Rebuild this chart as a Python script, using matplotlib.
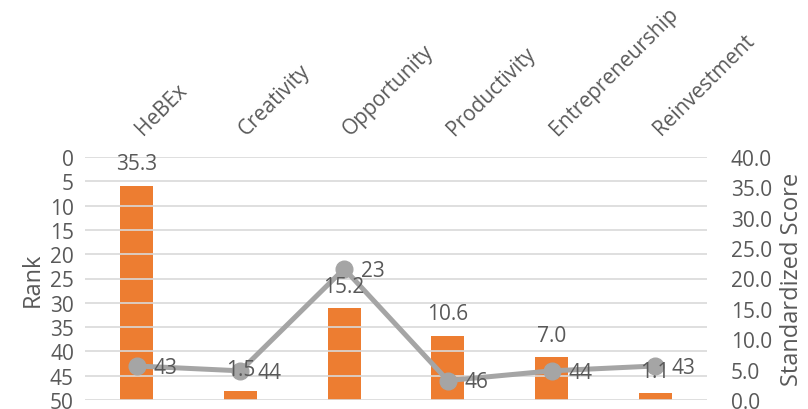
import matplotlib
matplotlib.use("Agg")
import matplotlib.pyplot as plt
import numpy as np

categories = ["HeBEx", "Creativity", "Opportunity", "Productivity", "Entrepreneurship", "Reinvestment"]
scores = [35.3, 1.5, 15.2, 10.6, 7.0, 1.1]
ranks = [43, 44, 23, 46, 44, 43]

plt.rcParams['font.family'] = ['Open Sans', 'DejaVu Sans']
txt = '#595959'
FS = 15

fig = plt.figure(figsize=(8.08, 4.10), dpi=100)
ax = fig.add_axes([85/808, 1 - 401/410, (707 - 85)/808, (401 - 158)/410])
ax2 = ax.twinx()

x = np.arange(len(categories))

# Bars on secondary (right) axis
ax2.bar(x, scores, width=0.32, color='#ED7D31', zorder=2)
ax2.set_ylim(0, 40)
ax2.set_yticks(np.arange(0, 40.1, 5))
ax2.set_yticklabels([f"{v:.1f}" for v in np.arange(0, 40.1, 5)])

# Line on primary (left) axis, inverted
ax.set_zorder(ax2.get_zorder() + 1)
ax.patch.set_visible(False)
ax.plot(x, ranks, color='#A5A5A5', lw=3.6, marker='o', ms=12, zorder=3)
ax.set_ylim(50, 0)
ax.set_yticks(np.arange(0, 51, 5))
ax.set_xlim(-0.5, len(categories) - 0.5)
for xi, r in zip(x, ranks):
    ax.annotate(f"{r}", (xi, r), xytext=(12, -1), textcoords='offset points',
                ha='left', va='center', fontsize=FS, color=txt, zorder=5)

# bar value labels drawn on top of the line
for xi, s in zip(x, scores):
    ax.annotate(f"{s:.1f}", (xi, s), xycoords=ax2.transData, xytext=(0, 8),
                textcoords='offset points', ha='center', va='bottom',
                fontsize=FS, color=txt, zorder=6)

ax.grid(axis='y', color='#D9D9D9', lw=1.2, zorder=0)
ax.set_axisbelow(True)
ax.set_xticks([])
for a in (ax, ax2):
    for sp in a.spines.values():
        sp.set_visible(False)
    a.tick_params(axis='y', length=0, labelsize=FS, colors=txt)
ax.tick_params(axis='y', pad=8)
ax2.tick_params(axis='y', pad=17)

ax.set_ylabel("Rank", fontsize=FS + 2, color=txt, labelpad=4)
ax2.set_ylabel("Standardized Score", fontsize=FS + 2, color=txt, labelpad=6)

# category labels on top, rotated 45
for xi, c in zip(x, categories):
    ax.annotate(c, (xi, 1), xycoords=('data', 'axes fraction'), xytext=(7, 13),
                textcoords='offset points', rotation=45, rotation_mode='anchor',
                ha='left', va='bottom', fontsize=FS, color=txt, annotation_clip=False)

fig.savefig("out.png", dpi=100)
